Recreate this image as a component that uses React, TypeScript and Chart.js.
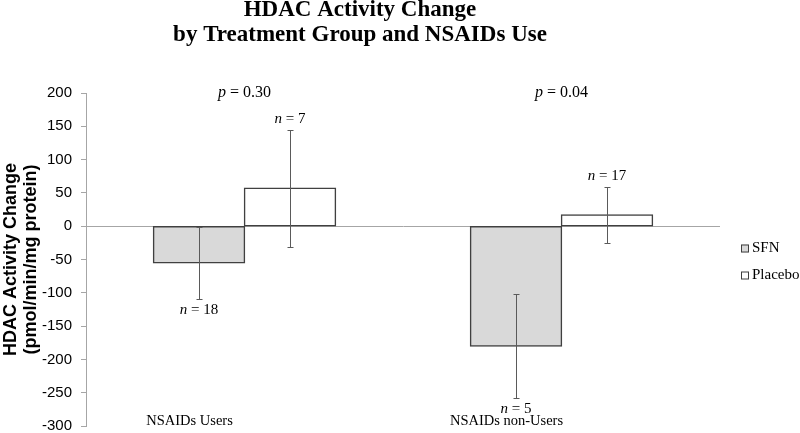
import React, { useEffect, useRef } from 'react';
import { Chart, registerables } from 'chart.js';

Chart.register(...registerables);

// ---- data ----
const categories = ['NSAIDs Users', 'NSAIDs non-Users'];
const seriesNames = ['SFN', 'Placebo'];
const sfnValues = [-55, -180];
const placeboValues = [57, 17];
const sfnErrors = [54, 78];
const placeboErrors = [88, 42];
const sfnN = ['18', '5'];
const placeboN = ['7', '17'];
const pValues = ['0.30', '0.04'];
const titleLines = ['HDAC Activity Change', 'by Treatment Group and NSAIDs Use'];
const yAxisTitle = ['HDAC Activity Change', '(pmol/min/mg protein)'];
const yMin = -300;
const yMax = 200;
const yStep = 50;

const SERIF = '"Liberation Serif", "Times New Roman", serif';
const SANS = '"Liberation Sans", Arial, sans-serif';

function drawMixed(ctx: CanvasRenderingContext2D, parts: [string, boolean][], cx: number, cy: number, size: number) {
  const fonts = parts.map(([, it]) => `${it ? 'italic ' : ''}${size}px ${SERIF}`);
  const widths = parts.map(([t], i) => {
    ctx.font = fonts[i];
    return ctx.measureText(t).width;
  });
  const total = widths.reduce((a, b) => a + b, 0);
  let x = cx - total / 2;
  ctx.textAlign = 'left';
  ctx.textBaseline = 'middle';
  ctx.fillStyle = '#000';
  parts.forEach(([t], i) => {
    ctx.font = fonts[i];
    ctx.fillText(t, x, cy);
    x += widths[i];
  });
}

const annotationPlugin = {
  id: 'hdacAnnotations',
  afterDatasetsDraw(chart: any) {
    const ctx: CanvasRenderingContext2D = chart.ctx;
    const yScale = chart.scales.y;
    const xScale = chart.scales.x;
    const area = chart.chartArea;
    const errs = [sfnErrors, placeboErrors];
    const ns = [sfnN, placeboN];
    ctx.save();
    chart.data.datasets.forEach((ds: any, di: number) => {
      const meta = chart.getDatasetMeta(di);
      meta.data.forEach((bar: any, i: number) => {
        const v = ds.data[i];
        const e = errs[di][i];
        const yTop = Math.round(yScale.getPixelForValue(v + e)) + 0.5;
        const yBot = Math.round(yScale.getPixelForValue(v - e)) + 0.5;
        const x = Math.round(bar.x) + 0.5;
        ctx.strokeStyle = '#5a5a5a';
        ctx.lineWidth = 1;
        ctx.beginPath();
        ctx.moveTo(x, yTop);
        ctx.lineTo(x, yBot);
        ctx.moveTo(x - 3, yTop);
        ctx.lineTo(x + 3, yTop);
        ctx.moveTo(x - 3, yBot);
        ctx.lineTo(x + 3, yBot);
        ctx.stroke();
        const ny = v >= 0 ? yTop - 11 : yBot + 11;
        drawMixed(ctx, [['n', true], [' = ' + ns[di][i], false]], bar.x, ny, 15);
      });
    });
    categories.forEach((label, i) => {
      const cx = xScale.getPixelForValue(i);
      drawMixed(ctx, [['p', true], [' = ' + pValues[i], false]], cx, yScale.getPixelForValue(yMax), 16);
      drawMixed(ctx, [[label, false]], cx - 55, area.bottom - 5, 14.5);
    });
    ctx.restore();
  },
  afterDraw(chart: any) {
    const ctx: CanvasRenderingContext2D = chart.ctx;
    const area = chart.chartArea;
    const midY = (area.top + area.bottom) / 2;
    const x0 = area.right + 21;
    ctx.save();
    chart.data.datasets.forEach((ds: any, di: number) => {
      const cy = midY - 11 + di * 27;
      ctx.fillStyle = ds.backgroundColor;
      ctx.fillRect(x0, cy - 4, 8, 8);
      ctx.strokeStyle = '#404040';
      ctx.lineWidth = 1;
      ctx.strokeRect(x0 + 0.5, cy - 3.5, 7, 7);
      ctx.fillStyle = '#000';
      ctx.font = `15px ${SERIF}`;
      ctx.textAlign = 'left';
      ctx.textBaseline = 'middle';
      ctx.fillText(ds.label, x0 + 11, cy);
    });
    ctx.restore();
  },
};

export default function App() {
  const canvasRef = useRef<HTMLCanvasElement | null>(null);

  useEffect(() => {
    const canvas = canvasRef.current;
    if (!canvas) return;
    const chart = new Chart(canvas, {
      type: 'bar',
      data: {
        labels: categories,
        datasets: [
          {
            label: seriesNames[0],
            data: sfnValues,
            backgroundColor: '#d9d9d9',
            borderColor: '#404040',
            borderWidth: 1.5,
            borderSkipped: false,
            inflateAmount: 0.75,
          },
          {
            label: seriesNames[1],
            data: placeboValues,
            backgroundColor: '#ffffff',
            borderColor: '#404040',
            borderWidth: 1.5,
            borderSkipped: false,
            inflateAmount: 0.75,
          },
        ],
      },
      options: {
        responsive: false,
        animation: false,
        events: [],
        layout: { padding: { left: 0, right: 80, top: 0, bottom: 7 } },
        datasets: {
          bar: { categoryPercentage: 0.574, barPercentage: 1.0 },
        },
        plugins: {
          legend: { display: false },
          tooltip: { enabled: false },
          title: {
            display: true,
            text: titleLines,
            color: '#000',
            font: { family: SERIF, size: 23, weight: 'bold', lineHeight: 1.087 },
            padding: { top: -2, bottom: 45 },
          },
        },
        scales: {
          x: {
            display: false,
          },
          y: {
            min: yMin,
            max: yMax,
            afterFit: (scale: any) => {
              scale.width = 86;
              scale.paddingTop = 0;
              scale.paddingBottom = 0;
            },
            ticks: {
              stepSize: yStep,
              color: '#000',
              font: { family: SANS, size: 15 },
              padding: 9,
            },
            grid: {
              drawOnChartArea: true,
              drawTicks: true,
              tickLength: 5,
              tickColor: '#a6a6a6',
              color: (c: any) => (c.tick && c.tick.value === 0 ? '#a6a6a6' : 'rgba(0,0,0,0)'),
            },
            border: { display: true, color: '#a6a6a6', width: 1 },
            title: {
              display: true,
              text: yAxisTitle,
              color: '#000',
              font: { family: SANS, size: 18, weight: 'bold', lineHeight: 1.1 },
              padding: { top: 1, bottom: 1 },
            },
          },
        },
      },
      plugins: [annotationPlugin],
    });
    return () => chart.destroy();
  }, []);

  return (
    <div style={{ position: 'absolute', left: 0, top: 0, width: 800, height: 433, background: '#fff' }}>
      <canvas ref={canvasRef} width={800} height={433} style={{ display: 'block' }} />
    </div>
  );
}
